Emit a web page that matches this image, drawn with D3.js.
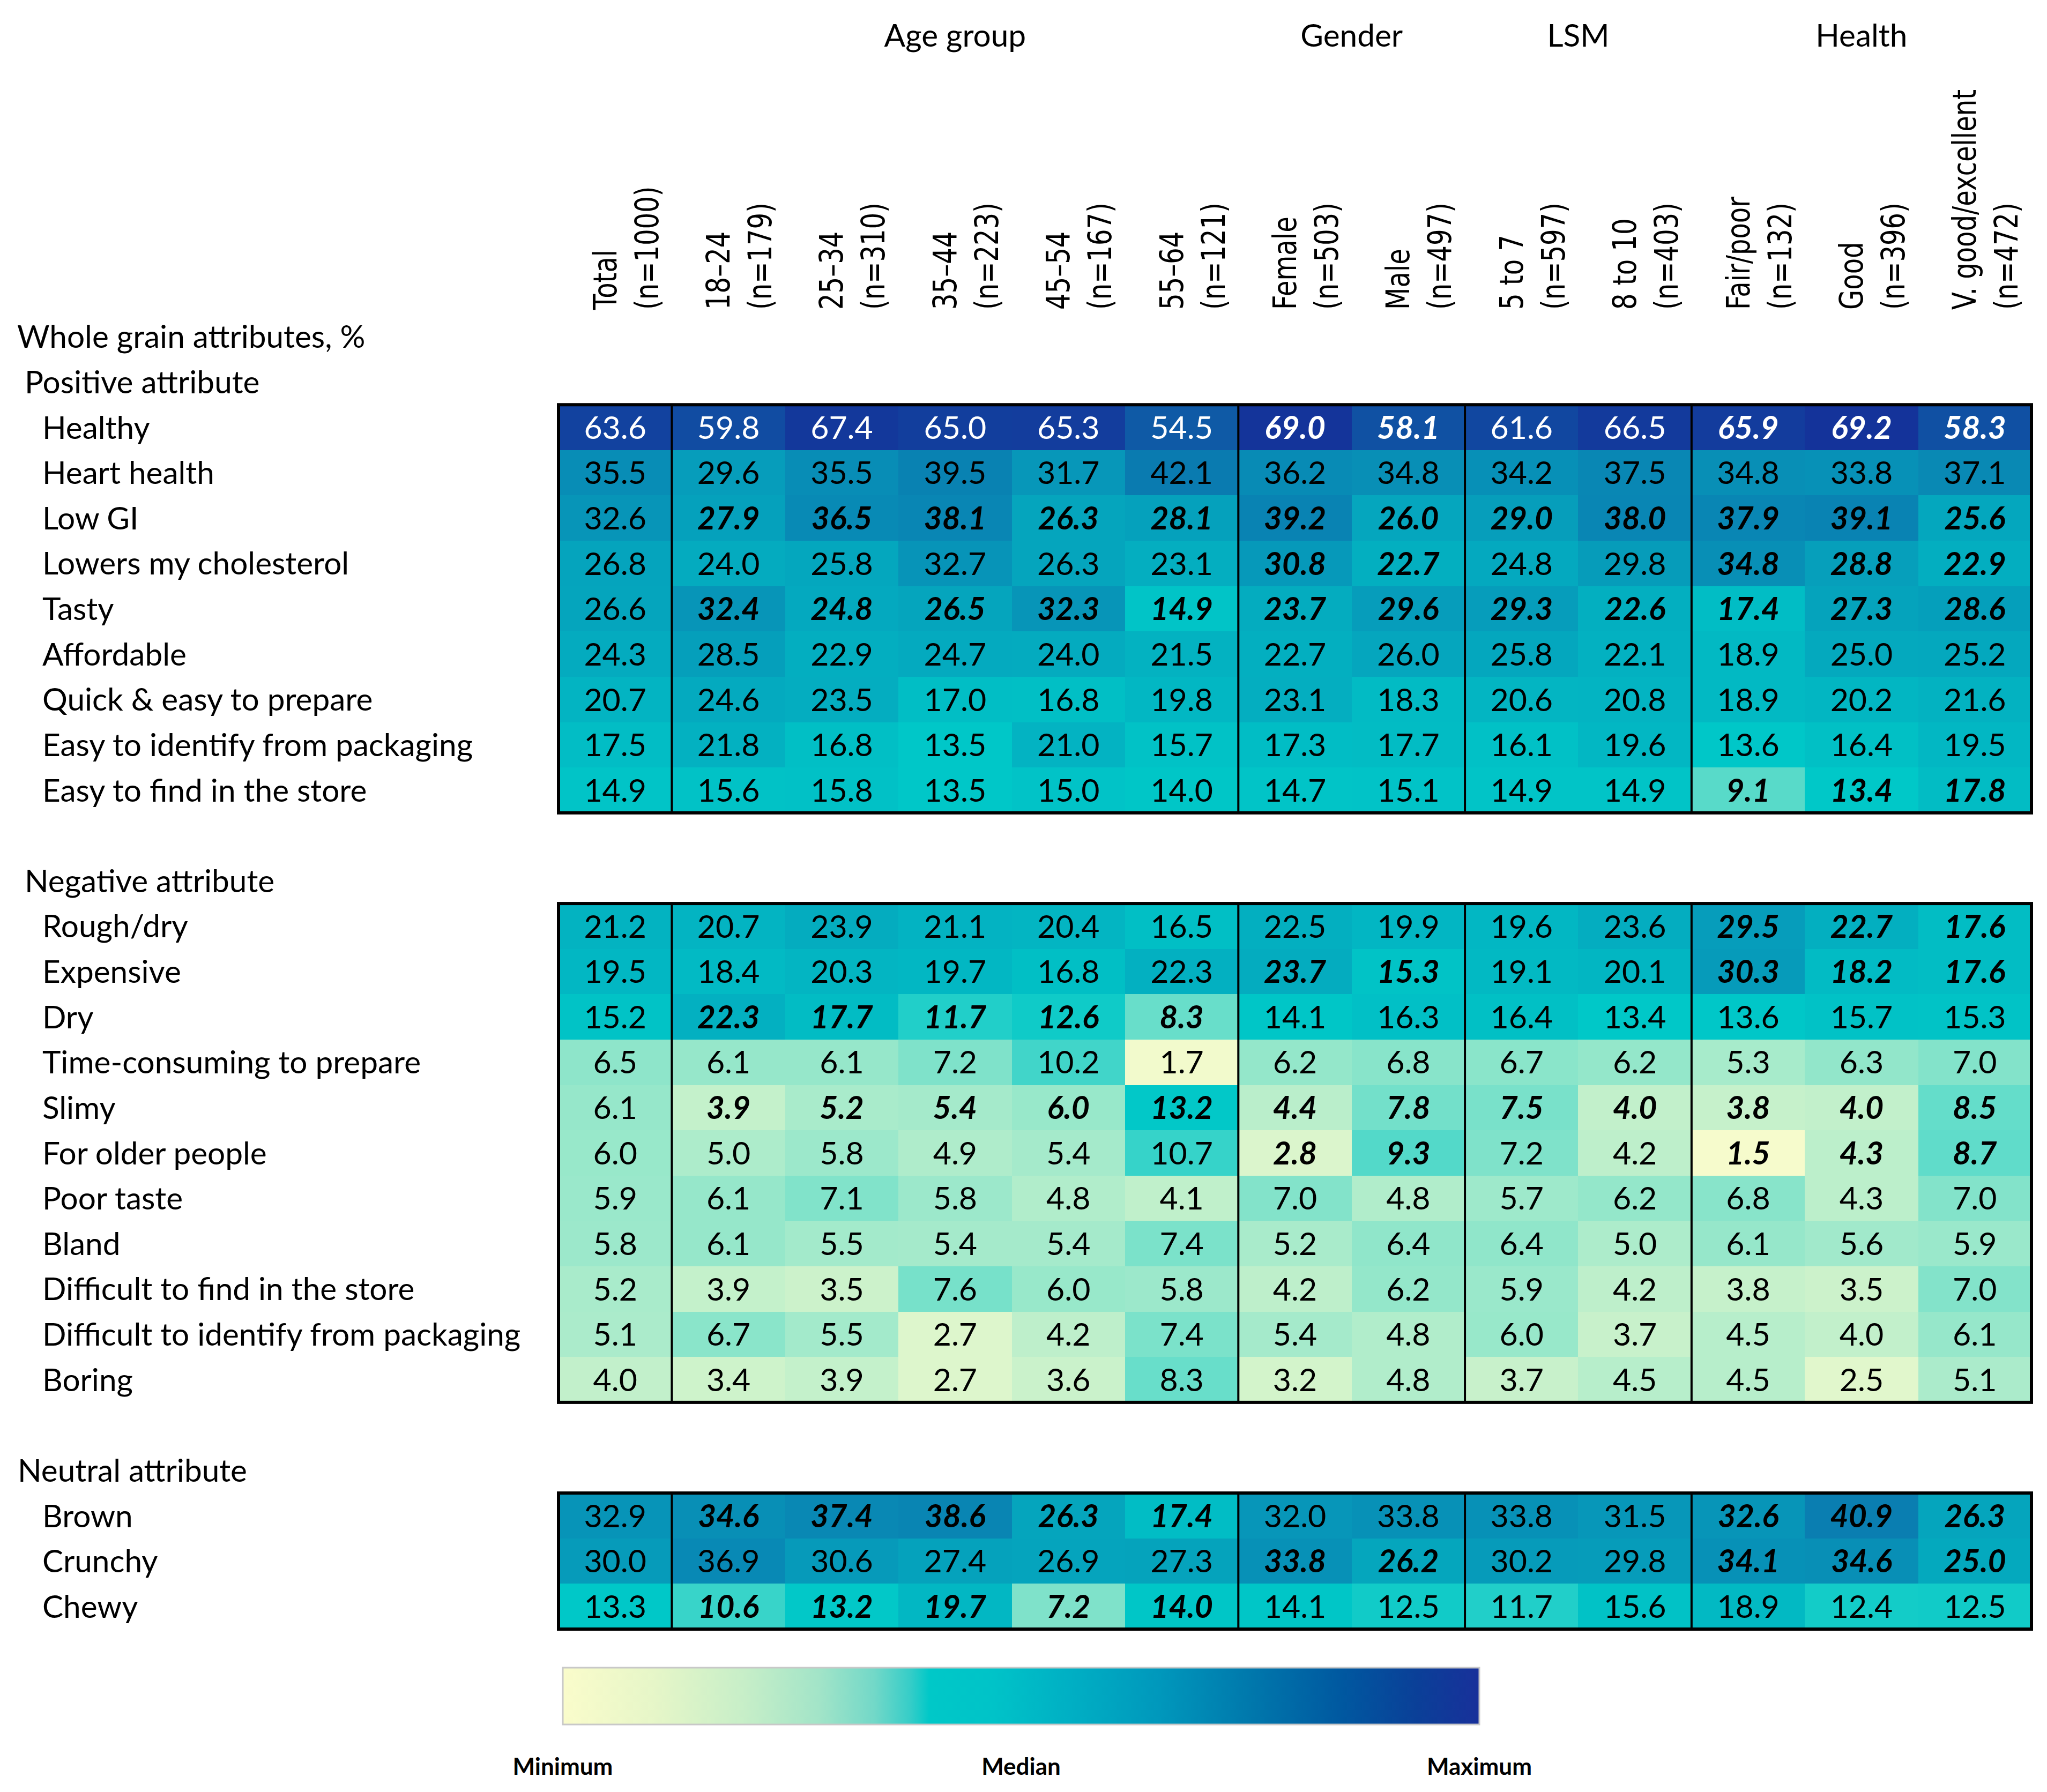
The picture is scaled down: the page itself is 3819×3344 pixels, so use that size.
<!DOCTYPE html>
<html>
<head>
<meta charset="utf-8">
<script src="https://cdn.jsdelivr.net/npm/d3@7"></script>
<style>
  html, body { margin: 0; padding: 0; background: #ffffff; }
  svg { display: block; }
</style>
</head>
<body>
<svg id="chart" width="3819" height="3344"></svg>
<script>
// ---------------- DATA ----------------
const columns = ["Total", "18–24", "25–34", "35–44", "45–54", "55–64", "Female", "Male", "5 to 7", "8 to 10", "Fair/poor", "Good", "V. good/excellent"];
const columnN = ["(n=1000)", "(n=179)", "(n=310)", "(n=223)", "(n=167)", "(n=121)", "(n=503)", "(n=497)", "(n=597)", "(n=403)", "(n=132)", "(n=396)", "(n=472)"];
const columnGroup = ["T", "A", "A", "A", "A", "A", "G", "G", "L", "L", "H", "H", "H"];
const groupCodes = ["A", "G", "L", "H"];
const groupLabels = ["Age group", "Gender", "LSM", "Health"];

const tableTitle = "Whole grain attributes, %";
const sectionTitles = ["Positive attribute", "Negative attribute", "Neutral attribute"];

const positiveAttributes = ["Healthy", "Heart health", "Low GI", "Lowers my cholesterol", "Tasty", "Affordable", "Quick & easy to prepare", "Easy to identify from packaging", "Easy to find in the store"];
const positiveValues = [
  [63.6, 59.8, 67.4, 65.0, 65.3, 54.5, 69.0, 58.1, 61.6, 66.5, 65.9, 69.2, 58.3],
  [35.5, 29.6, 35.5, 39.5, 31.7, 42.1, 36.2, 34.8, 34.2, 37.5, 34.8, 33.8, 37.1],
  [32.6, 27.9, 36.5, 38.1, 26.3, 28.1, 39.2, 26.0, 29.0, 38.0, 37.9, 39.1, 25.6],
  [26.8, 24.0, 25.8, 32.7, 26.3, 23.1, 30.8, 22.7, 24.8, 29.8, 34.8, 28.8, 22.9],
  [26.6, 32.4, 24.8, 26.5, 32.3, 14.9, 23.7, 29.6, 29.3, 22.6, 17.4, 27.3, 28.6],
  [24.3, 28.5, 22.9, 24.7, 24.0, 21.5, 22.7, 26.0, 25.8, 22.1, 18.9, 25.0, 25.2],
  [20.7, 24.6, 23.5, 17.0, 16.8, 19.8, 23.1, 18.3, 20.6, 20.8, 18.9, 20.2, 21.6],
  [17.5, 21.8, 16.8, 13.5, 21.0, 15.7, 17.3, 17.7, 16.1, 19.6, 13.6, 16.4, 19.5],
  [14.9, 15.6, 15.8, 13.5, 15.0, 14.0, 14.7, 15.1, 14.9, 14.9, 9.1, 13.4, 17.8]
];
// groups whose differences are significant (shown bold italic)
const positiveSignificant = ["GH", "", "AGLH", "GH", "AGLH", "", "", "", "H"];

const negativeAttributes = ["Rough/dry", "Expensive", "Dry", "Time-consuming to prepare", "Slimy", "For older people", "Poor taste", "Bland", "Difficult to find in the store", "Difficult to identify from packaging", "Boring"];
const negativeValues = [
  [21.2, 20.7, 23.9, 21.1, 20.4, 16.5, 22.5, 19.9, 19.6, 23.6, 29.5, 22.7, 17.6],
  [19.5, 18.4, 20.3, 19.7, 16.8, 22.3, 23.7, 15.3, 19.1, 20.1, 30.3, 18.2, 17.6],
  [15.2, 22.3, 17.7, 11.7, 12.6, 8.3, 14.1, 16.3, 16.4, 13.4, 13.6, 15.7, 15.3],
  [6.5, 6.1, 6.1, 7.2, 10.2, 1.7, 6.2, 6.8, 6.7, 6.2, 5.3, 6.3, 7.0],
  [6.1, 3.9, 5.2, 5.4, 6.0, 13.2, 4.4, 7.8, 7.5, 4.0, 3.8, 4.0, 8.5],
  [6.0, 5.0, 5.8, 4.9, 5.4, 10.7, 2.8, 9.3, 7.2, 4.2, 1.5, 4.3, 8.7],
  [5.9, 6.1, 7.1, 5.8, 4.8, 4.1, 7.0, 4.8, 5.7, 6.2, 6.8, 4.3, 7.0],
  [5.8, 6.1, 5.5, 5.4, 5.4, 7.4, 5.2, 6.4, 6.4, 5.0, 6.1, 5.6, 5.9],
  [5.2, 3.9, 3.5, 7.6, 6.0, 5.8, 4.2, 6.2, 5.9, 4.2, 3.8, 3.5, 7.0],
  [5.1, 6.7, 5.5, 2.7, 4.2, 7.4, 5.4, 4.8, 6.0, 3.7, 4.5, 4.0, 6.1],
  [4.0, 3.4, 3.9, 2.7, 3.6, 8.3, 3.2, 4.8, 3.7, 4.5, 4.5, 2.5, 5.1]
];
const negativeSignificant = ["H", "GH", "A", "", "AGLH", "GH", "", "", "", "", ""];

const neutralAttributes = ["Brown", "Crunchy", "Chewy"];
const neutralValues = [
  [32.9, 34.6, 37.4, 38.6, 26.3, 17.4, 32.0, 33.8, 33.8, 31.5, 32.6, 40.9, 26.3],
  [30.0, 36.9, 30.6, 27.4, 26.9, 27.3, 33.8, 26.2, 30.2, 29.8, 34.1, 34.6, 25.0],
  [13.3, 10.6, 13.2, 19.7, 7.2, 14.0, 14.1, 12.5, 11.7, 15.6, 18.9, 12.4, 12.5]
];
const neutralSignificant = ["AH", "GH", "A"];

const legendLabels = ["Minimum", "Median", "Maximum"];
const colorMidpoint = 13.3;   // value shown in the pure teal of the colour scale

// ---------------- LAYOUT ----------------
const svg = d3.select("#chart");
const bodyFont = "Lato, 'Open Sans', sans-serif";
const headFont = "'DejaVu Sans', Verdana, sans-serif";
const labelSize = 58.5, numberSize = 59, headSize = 54;

const sectionsData = [
  { title: sectionTitles[0], attrs: positiveAttributes, values: positiveValues, sig: positiveSignificant, titleX: 46 },
  { title: sectionTitles[1], attrs: negativeAttributes, values: negativeValues, sig: negativeSignificant, titleX: 46 },
  { title: sectionTitles[2], attrs: neutralAttributes, values: neutralValues, sig: neutralSignificant, titleX: 33 }
];

// Build the list of text lines (rows)
const lines = [{ kind: "title", text: tableTitle }];
sectionsData.forEach((s, si) => {
  if (si > 0) lines.push({ kind: "blank" });
  lines.push({ kind: "section", text: s.title, sec: si });
  s.attrs.forEach((a, ai) => lines.push({ kind: "item", text: a, sec: si, row: ai, values: s.values[ai], sig: s.sig[ai] }));
});
lines.forEach((l, i) => l.idx = i);

const y = d3.scaleBand().domain(lines.map(l => l.idx)).range([586, 3040]).paddingInner(0).paddingOuter(0);
const x = d3.scaleBand().domain(columns).range([1042, 3790]).paddingInner(0).paddingOuter(0);
const rh = y.bandwidth(), cw = x.bandwidth();

const allValues = [positiveValues, negativeValues, neutralValues].flat(2);
const vMin = d3.min(allValues), vMax = d3.max(allValues);
const color = d3.scaleLinear()
  .domain([vMin, colorMidpoint, vMax])
  .range(["#f6fbcc", "#00c8c8", "#14339a"])
  .interpolate(d3.interpolateRgb);

// ---------------- ROW LABELS ----------------
const labelG = svg.append("g").attr("font-family", bodyFont).attr("font-size", labelSize).attr("fill", "#000");
lines.filter(l => l.kind !== "blank").forEach(l => {
  let lx = 79;
  if (l.kind === "title") lx = 32;
  if (l.kind === "section") lx = sectionsData[l.sec].titleX;
  labelG.append("text")
    .attr("x", lx)
    .attr("y", y(l.idx) + rh / 2)
    .attr("dy", "0.36em")
    .text(l.text);
});

// ---------------- CELLS ----------------
const cellG = svg.append("g");
const items = lines.filter(l => l.kind === "item");
items.forEach(l => {
  l.values.forEach((v, ci) => {
    const col = columns[ci];
    const fill = color(v);
    cellG.append("rect")
      .attr("x", x(col))
      .attr("y", y(l.idx))
      .attr("width", cw + 0.6)
      .attr("height", rh + 0.6)
      .attr("fill", fill)
      .attr("shape-rendering", "crispEdges");
    const bold = l.sig.includes(columnGroup[ci]);
    cellG.append("text")
      .attr("x", x(col) + cw / 2)
      .attr("y", y(l.idx) + rh / 2)
      .attr("dy", "0.36em")
      .attr("text-anchor", "middle")
      .attr("font-family", bodyFont)
      .attr("font-size", numberSize)
      .attr("font-weight", bold ? 700 : 400)
      .attr("font-style", bold ? "italic" : "normal")
      .attr("fill", d3.lab(fill).l < 45 ? "#ffffff" : "#000000")
      .text(d3.format(".1f")(v));
  });
});

// ---------------- TABLE BORDERS ----------------
const borderG = svg.append("g").attr("fill", "none").attr("stroke", "#000");
const x0 = x.range()[0], x1 = x.range()[1];
const dividerCols = [1, 6, 8, 10];
sectionsData.forEach((s, si) => {
  const secLines = items.filter(l => l.sec === si);
  const top = y(secLines[0].idx), bottom = y(secLines[secLines.length - 1].idx) + rh;
  borderG.append("rect")
    .attr("x", x0).attr("y", top)
    .attr("width", x1 - x0).attr("height", bottom - top)
    .attr("stroke-width", 6);
  dividerCols.forEach(c => {
    const dx = x(columns[c]);
    borderG.append("line")
      .attr("x1", dx).attr("x2", dx)
      .attr("y1", top).attr("y2", bottom)
      .attr("stroke-width", 4);
  });
});

// ---------------- COLUMN HEADERS ----------------
const headG = svg.append("g").attr("font-family", headFont).attr("font-size", headSize).attr("fill", "#000");
columns.forEach((c, ci) => {
  const cx = x(c) + cw / 2;
  [[c, 2], [columnN[ci], 80]].forEach(([txt, off]) => {
    headG.append("text")
      .attr("transform", `translate(${cx + off},578) rotate(-90) scale(0.89,1.12)`)
      .attr("x", 0).attr("y", 0)
      .text(txt);
  });
});

// group labels
const grpG = svg.append("g").attr("font-family", bodyFont).attr("font-size", labelSize).attr("fill", "#000");
groupCodes.forEach((code, gi) => {
  const cols = columns.filter((c, i) => columnGroup[i] === code);
  const left = x(cols[0]), right = x(cols[cols.length - 1]) + cw;
  grpG.append("text")
    .attr("x", (left + right) / 2)
    .attr("y", 66)
    .attr("dy", "0.36em")
    .attr("text-anchor", "middle")
    .text(groupLabels[gi]);
});

// ---------------- COLOUR LEGEND ----------------
const legX = d3.scaleLinear().domain([0, 1]).range([1050, 2760]);
const gradStops = [
  [0, "#fafccb"], [0.1, "#e6f6c8"], [0.2, "#c6eec8"], [0.28, "#a2e4c8"], [0.34, "#72d8c8"],
  [0.38, "#34cdc8"], [0.40, "#00c8c8"], [0.47, "#00c3c8"], [0.55, "#00b0c4"], [0.65, "#0098bc"],
  [0.75, "#0078ac"], [0.85, "#0058a0"], [0.93, "#0a4098"], [1, "#18309a"]
];
const defs = svg.append("defs");
const grad = defs.append("linearGradient").attr("id", "legendGrad").attr("x1", "0%").attr("x2", "100%");
gradStops.forEach(s => grad.append("stop").attr("offset", s[0]).attr("stop-color", s[1]));
svg.append("rect")
  .attr("x", legX(0)).attr("y", 3112)
  .attr("width", legX(1) - legX(0)).attr("height", 106)
  .attr("fill", "url(#legendGrad)")
  .attr("stroke", "#c8c8c8").attr("stroke-width", 3);

const legPos = [0, 0.5, 1];
svg.append("g").attr("font-family", bodyFont).attr("font-size", 44).attr("font-weight", 700).attr("fill", "#000")
  .selectAll("text").data(legendLabels).join("text")
  .attr("x", (d, i) => legX(legPos[i]))
  .attr("y", 3312)
  .attr("text-anchor", "middle")
  .text(d => d);
</script>
</body>
</html>
